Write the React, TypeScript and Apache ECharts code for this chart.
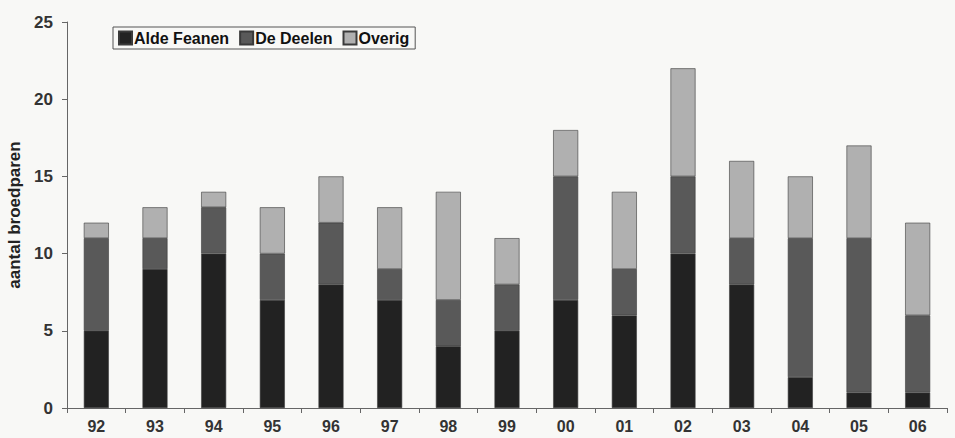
import React, { useEffect, useRef } from "react";
import * as echarts from "echarts";

const categories = ["92", "93", "94", "95", "96", "97", "98", "99", "00", "01", "02", "03", "04", "05", "06"];
const aldeFeanen = [5, 9, 10, 7, 8, 7, 4, 5, 7, 6, 10, 8, 2, 1, 1];
const deDeelen = [6, 2, 3, 3, 4, 2, 3, 3, 8, 3, 5, 3, 9, 10, 5];
const overig = [1, 2, 1, 3, 3, 4, 7, 3, 3, 5, 7, 5, 4, 6, 6];
const yTicks = [0, 5, 10, 15, 20, 25];

const FONT = "'Liberation Sans', Arial, sans-serif";

export default function App() {
  const ref = useRef<HTMLDivElement>(null);
  useEffect(() => {
    if (!ref.current) return;
    const chart = echarts.init(ref.current, null, { renderer: "svg" });
    const mk = (name: string, data: number[], color: string) => ({
      name,
      type: "bar",
      stack: "total",
      data,
      barWidth: 25,
      itemStyle: { color, borderColor: "#3a3a3a", borderWidth: 0.6 },
    });
    chart.setOption({
      animation: false,
      backgroundColor: "#f8f8f6",
      textStyle: { fontFamily: FONT },
      grid: { left: 67, right: 8, top: 22, bottom: 30, containLabel: false, outerBoundsMode: "none" },
      legend: {
        left: 113,
        top: 27,
        padding: [3, 6, 3, 5],
        itemGap: 10,
        itemWidth: 13,
        itemHeight: 13,
        borderColor: "#555",
        borderWidth: 1,
        icon: "rect",
        textStyle: { fontFamily: FONT, fontSize: 16, fontWeight: "bold", color: "#111", padding: [0, 0, 0, -3] },
        data: ["Alde Feanen", "De Deelen", "Overig"],
      },
      xAxis: {
        type: "category",
        data: categories,
        axisLine: { lineStyle: { color: "#666" } },
        axisTick: { show: true, alignWithLabel: false, length: 5, lineStyle: { color: "#666" } },
        axisLabel: { fontFamily: FONT, fontSize: 16, fontWeight: "bold", color: "#333", margin: 10 },
      },
      yAxis: {
        type: "value",
        min: yTicks[0],
        max: yTicks[yTicks.length - 1],
        interval: 5,
        name: "aantal broedparen",
        nameLocation: "middle",
        nameGap: 41,
        nameTextStyle: { fontFamily: FONT, fontSize: 17, fontWeight: "bold", color: "#222" },
        axisLine: { show: true, lineStyle: { color: "#666" } },
        axisTick: { show: true, length: 5, lineStyle: { color: "#666" } },
        splitLine: { show: false },
        axisLabel: { fontFamily: FONT, fontSize: 17, fontWeight: "bold", color: "#333", margin: 14 },
      },
      series: [
        mk("Alde Feanen", aldeFeanen, "#222222"),
        mk("De Deelen", deDeelen, "#595959"),
        mk("Overig", overig, "#b0b0b0"),
      ],
    });
    return () => chart.dispose();
  }, []);
  return <div ref={ref} style={{ width: 955, height: 438, position: "absolute", left: 0, top: 0 }} />;
}
